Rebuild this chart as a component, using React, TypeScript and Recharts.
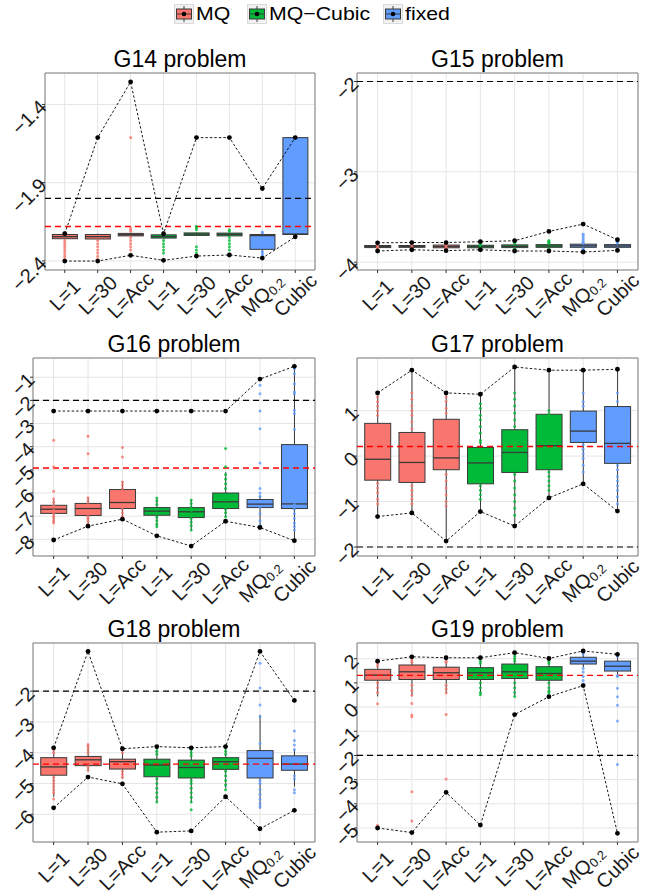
import {
  ComposedChart,
  Bar,
  Line,
  Scatter,
  XAxis,
  YAxis,
  CartesianGrid,
  ReferenceLine,
  ReferenceArea,
} from "recharts";

const FONT = '"Liberation Sans", Arial, Helvetica, sans-serif';
const EDGE = "#3A3A3A";
const AXIS_FS = 20;
const TITLE_FS = 23;
const PAGE_H = 894;

// categories and groups
const CATS = ["L=1", "L=30", "L=Acc", "L=1", "L=30", "L=Acc", "MQ0.2", "Cubic"];
const CAT_GROUP = [0, 0, 0, 1, 1, 1, 2, 2];
const GROUPS = ["MQ", "MQ\u2212Cubic", "fixed"];
const GROUP_COLORS = ["#F8766D", "#00BA38", "#619CFF"];
const BLACK_LEVEL = -2;

// G14
const G14_Q1 = [-2.258, -2.26, -2.24, -2.254, -2.237, -2.24, -2.326, -2.231];
const G14_MED = [-2.245, -2.245, -2.232, -2.245, -2.229, -2.23, -2.238, -2.228];
const G14_Q3 = [-2.231, -2.231, -2.224, -2.233, -2.221, -2.222, -2.231, -1.612];
const G14_LO = [-2.262, -2.264, -2.243, -2.258, -2.24, -2.243, -2.378, -2.246];
const G14_HI = [-2.226, -2.226, -2.22, -2.228, -2.218, -2.218, -2.215, -1.612];
const G14_MAX = [-2.226, -1.612, -1.256, -2.226, -1.612, -1.612, -1.937, -1.612];
const G14_MIN = [-2.401, -2.401, -2.364, -2.396, -2.369, -2.362, -2.382, -2.246];
const G14_PTS = [
  [-2.27, -2.285, -2.3, -2.315, -2.33, -2.345, -2.36, -2.375, -2.39],
  [-2.27, -2.29, -2.31, -2.33, -2.35, -2.37, -2.39],
  [-1.612, -2.19, -2.2, -2.21, -2.25, -2.27, -2.29, -2.31, -2.33],
  [-2.27, -2.29, -2.31, -2.33, -2.35],
  [-2.18, -2.19, -2.2, -2.31, -2.33, -2.35, -2.37],
  [-2.2, -2.21, -2.25, -2.27, -2.29, -2.31, -2.33],
  [-2.215, -2.22, -2.34, -2.35, -2.36, -2.37],
  [],
];
const G14_RED = -2.18;
const G14_DOMAIN = [-2.458, -1.199];
const G14_TICKS = [-2.4, -1.9, -1.4];

// G15
const G15_Q1 = [-3.838, -3.835, -3.84, -3.84, -3.838, -3.835, -3.835, -3.835];
const G15_MED = [-3.826, -3.825, -3.826, -3.826, -3.824, -3.821, -3.818, -3.82];
const G15_Q3 = [-3.815, -3.815, -3.81, -3.812, -3.808, -3.805, -3.8, -3.805];
const G15_LO = [-3.845, -3.842, -3.848, -3.848, -3.846, -3.843, -3.845, -3.842];
const G15_HI = [-3.808, -3.808, -3.803, -3.805, -3.8, -3.798, -3.792, -3.798];
const G15_MAX = [-3.785, -3.782, -3.782, -3.773, -3.762, -3.659, -3.578, -3.751];
const G15_MIN = [-3.876, -3.862, -3.872, -3.862, -3.876, -3.876, -3.887, -3.869];
const G15_PTS = [
  [-3.8, -3.81, -3.83, -3.84, -3.85],
  [-3.81, -3.83, -3.84],
  [-3.8, -3.81, -3.83, -3.845, -3.85],
  [-3.8, -3.81, -3.835, -3.85, -3.86],
  [-3.77, -3.78, -3.79, -3.85, -3.86, -3.87],
  [-3.76, -3.77, -3.78, -3.79, -3.85],
  [-3.69, -3.7, -3.72, -3.74, -3.76, -3.78, -3.79, -3.85, -3.86, -3.875],
  [-3.77, -3.78, -3.79, -3.85],
];
const G15_RED = null;
const G15_DOMAIN = [-4.086, -1.906];
const G15_TICKS = [-4, -3, -2];

// G16
const G16_Q1 = [-6.88, -6.97, -6.67, -6.96, -7.06, -6.67, -6.63, -6.67];
const G16_MED = [-6.7, -6.67, -6.41, -6.78, -6.81, -6.38, -6.48, -6.47];
const G16_Q3 = [-6.53, -6.45, -5.85, -6.63, -6.63, -6.0, -6.28, -3.91];
const G16_LO = [-7.3, -7.4, -7.05, -7.45, -7.6, -7.03, -7.46, -8.06];
const G16_HI = [-6.3, -6.2, -5.5, -6.22, -6.3, -5.1, -6.1, -0.53];
const G16_MAX = [-2.46, -2.46, -2.46, -2.46, -2.46, -2.46, -1.08, -0.53];
const G16_MIN = [-8.03, -7.43, -7.13, -7.85, -8.29, -7.22, -7.49, -8.06];
const G16_PTS = [
  [-3.72, -4.87, -5.92, -6.25, -6.4, -6.55, -6.75, -6.9, -7.0, -7.1, -7.2, -7.3],
  [-3.55, -4.3, -6.2, -6.35, -6.5, -6.8, -7.0, -7.1, -7.2, -7.35],
  [-4.04, -4.44, -5.52, -5.65, -5.8, -6.0, -6.2, -6.5, -6.7, -6.85, -7.0],
  [-6.22, -6.35, -6.5, -6.7, -6.9, -7.05, -7.2, -7.35, -7.46],
  [-6.3, -6.45, -6.6, -6.75, -6.95, -7.1, -7.25, -7.4, -7.6],
  [-4.08, -4.87, -5.2, -5.4, -5.6, -5.8, -6.1, -6.3, -6.5, -6.7, -6.85, -7.03],
  [-1.35, -1.71, -2.46, -3.22, -4.7, -5.81, -6.0, -6.15, -6.6, -6.9, -7.2, -7.4],
  [-0.63, -0.85, -1.28, -1.64, -1.71, -2.43, -2.57, -3.26, -6.5, -6.7, -6.9, -7.1, -7.3, -7.45, -7.6],
];
const G16_RED = -4.92;
const G16_DOMAIN = [-8.72, -0.17];
const G16_TICKS = [-8, -7, -6, -5, -4, -3, -2, -1];

// G17
const G17_Q1 = [-0.53, -0.58, -0.3, -0.61, -0.36, -0.3, 0.3, -0.16];
const G17_MED = [-0.07, -0.14, -0.04, -0.15, 0.08, 0.23, 0.55, 0.28];
const G17_Q3 = [0.72, 0.52, 0.81, 0.19, 0.58, 0.92, 0.99, 1.09];
const G17_LO = [-1.33, -1.25, -1.87, -1.22, -1.54, -0.92, -0.61, -1.21];
const G17_HI = [1.39, 1.89, 1.39, 1.36, 1.96, 1.89, 1.89, 1.91];
const G17_MAX = [1.39, 1.89, 1.39, 1.36, 1.96, 1.89, 1.89, 1.91];
const G17_MIN = [-1.33, -1.25, -1.87, -1.22, -1.54, -0.92, -0.61, -1.21];
const G17_PTS = [
  [1.3, 1.2, 1.1, 1.0, 0.9, -0.6, -0.7, -0.8, -0.95, -1.05],
  [1.39, 1.25, 1.1, 1.0, 0.9, 0.75, 0.6, -0.65, -0.75, -0.85, -0.95, -1.05],
  [1.3, 1.2, 1.05, 0.95, -0.4, -0.55, -0.7, -0.85, -1.0, -1.1],
  [1.15, 1.05, 0.9, 0.8, 0.65, 0.5, 0.35, 0.3, -0.65, -0.75, -0.85, -0.95],
  [1.39, 1.25, 1.1, 0.95, 0.8, 0.65, -0.4, -0.55, -0.7, -0.85, -1.0, -1.15, -1.3],
  [1.0, 0.92, -0.35, -0.45, -0.55, -0.65, -0.75],
  [1.39, 1.2, 1.1, 0.25, 0.15, 0.05, -0.05, -0.2, -0.35],
  [1.39, 1.2, -0.2, -0.3, -0.45, -0.55, -0.65, -0.75, -0.9, -1.05],
];
const G17_RED = 0.21;
const G17_DOMAIN = [-2.198, 2.158];
const G17_TICKS = [-2, -1, 0, 1];

// G18
const G18_Q1 = [-4.73, -4.42, -4.53, -4.78, -4.82, -4.54, -4.82, -4.57];
const G18_MED = [-4.46, -4.23, -4.29, -4.4, -4.48, -4.29, -4.18, -4.37];
const G18_Q3 = [-4.16, -4.12, -4.21, -4.21, -4.24, -4.16, -3.93, -4.1];
const G18_LO = [-5.43, -4.62, -4.84, -5.6, -5.6, -5.16, -5.82, -5.1];
const G18_HI = [-3.84, -3.73, -3.87, -3.8, -3.84, -3.8, -2.77, -3.87];
const G18_MAX = [-3.84, -0.71, -3.87, -3.8, -3.84, -3.8, -0.71, -2.3];
const G18_MIN = [-5.79, -4.79, -5.01, -6.58, -6.54, -5.43, -6.47, -5.87];
const G18_PTS = [
  [-3.9, -4.0, -4.8, -4.9, -5.0, -5.1, -5.2, -5.3, -5.5],
  [-3.73, -3.8, -3.9, -4.0, -4.3, -4.45, -4.55],
  [-3.9, -4.0, -4.6, -4.7, -4.8],
  [-3.85, -3.95, -4.05, -4.85, -5.0, -5.15, -5.3, -5.45, -5.6],
  [-3.9, -4.0, -4.1, -4.9, -5.0, -5.15, -5.3, -5.45, -5.6, -5.85],
  [-3.85, -3.95, -4.05, -4.6, -4.75, -4.9, -5.05, -5.2],
  [-1.09, -1.9, -2.45, -2.83, -3.7, -4.9, -5.0, -5.2, -5.35, -5.5, -5.65, -5.76],
  [-3.29, -3.6, -3.75, -3.9, -4.75, -4.85, -5.2, -5.3],
];
const G18_RED = -4.37;
const G18_DOMAIN = [-6.9, -0.435];
const G18_TICKS = [-6, -5, -4, -3, -2];

// G19
const G19_Q1 = [1.11, 1.14, 1.14, 1.14, 1.18, 1.11, 1.78, 1.49];
const G19_MED = [1.32, 1.46, 1.42, 1.42, 1.46, 1.39, 1.9, 1.69];
const G19_Q3 = [1.56, 1.74, 1.65, 1.63, 1.78, 1.67, 2.06, 1.9];
const G19_LO = [0.44, 0.44, 0.58, 0.51, 0.44, 0.58, 1.63, 1.28];
const G19_HI = [1.9, 2.08, 2.04, 2.04, 2.25, 2.01, 2.32, 2.18];
const G19_MAX = [1.9, 2.08, 2.04, 2.04, 2.25, 2.01, 2.32, 2.18];
const G19_MIN = [-5.0, -5.19, -3.53, -4.88, -0.31, 0.43, 0.89, -5.22];
const G19_PTS = [
  [1.8, 1.7, 1.0, 0.8, 0.6, 0.14, -4.89],
  [1.95, 1.85, 0.9, 0.7, 0.5, 0.15, -0.33, -0.4, -3.5, -4.71],
  [1.9, 1.85, 0.9, 0.75, 0.58, -0.31, -2.97],
  [1.9, 1.8, 1.0, 0.8, 0.6, 0.51],
  [2.1, 2.0, 1.9, 1.0, 0.8, 0.6, 0.44],
  [1.9, 1.8, 1.0, 0.8, 0.65, 0.58],
  [2.25, 2.2, 1.6, 1.45, 1.26, 1.1, 0.95],
  [2.1, 1.3, 1.26, 0.78, 0.43, 0.08, -0.58, -2.37],
];
const G19_RED = 1.31;
const G19_DOMAIN = [-5.58, 2.65];
const G19_TICKS = [-5, -4, -3, -2, -1, 0, 1, 2];

const PANELS = [
  { title: "G14", q1: G14_Q1, med: G14_MED, q3: G14_Q3, lo: G14_LO, hi: G14_HI, max: G14_MAX, min: G14_MIN, pts: G14_PTS, red: G14_RED, domain: G14_DOMAIN, ticks: G14_TICKS, frame: { x0: 0, left: 45, right: 315, top: 73, bottom: 270 } },
  { title: "G15", q1: G15_Q1, med: G15_MED, q3: G15_Q3, lo: G15_LO, hi: G15_HI, max: G15_MAX, min: G15_MIN, pts: G15_PTS, red: G15_RED, domain: G15_DOMAIN, ticks: G15_TICKS, frame: { x0: 325, left: 357, right: 638, top: 73, bottom: 270 } },
  { title: "G16", q1: G16_Q1, med: G16_MED, q3: G16_Q3, lo: G16_LO, hi: G16_HI, max: G16_MAX, min: G16_MIN, pts: G16_PTS, red: G16_RED, domain: G16_DOMAIN, ticks: G16_TICKS, frame: { x0: 0, left: 33, right: 315, top: 358, bottom: 556 } },
  { title: "G17", q1: G17_Q1, med: G17_MED, q3: G17_Q3, lo: G17_LO, hi: G17_HI, max: G17_MAX, min: G17_MIN, pts: G17_PTS, red: G17_RED, domain: G17_DOMAIN, ticks: G17_TICKS, frame: { x0: 325, left: 357, right: 638, top: 358, bottom: 556 } },
  { title: "G18", q1: G18_Q1, med: G18_MED, q3: G18_Q3, lo: G18_LO, hi: G18_HI, max: G18_MAX, min: G18_MIN, pts: G18_PTS, red: G18_RED, domain: G18_DOMAIN, ticks: G18_TICKS, frame: { x0: 0, left: 33, right: 315, top: 643, bottom: 842 } },
  { title: "G19", q1: G19_Q1, med: G19_MED, q3: G19_Q3, lo: G19_LO, hi: G19_HI, max: G19_MAX, min: G19_MIN, pts: G19_PTS, red: G19_RED, domain: G19_DOMAIN, ticks: G19_TICKS, frame: { x0: 325, left: 357, right: 638, top: 643, bottom: 842 } },
];

const X_TICKS = CATS.map((_, i) => i + 1);

const fmtNum = (v: number) => (v < 0 ? "\u2212" : "") + String(Math.abs(v));

// minor grid halfway between major breaks (ggplot style)
const minorBreaks = (ticks: number[], domain: number[]) => {
  const step = ticks[1] - ticks[0];
  const ext = [ticks[0] - step, ...ticks, ticks[ticks.length - 1] + step];
  const mids: number[] = [];
  for (let i = 1; i < ext.length; i++) mids.push((ext[i - 1] + ext[i]) / 2);
  return mids.filter((m) => m > domain[0] && m < domain[1]);
};

const BoxShape = (props: any) => {
  const { x, y, width, height, payload } = props;
  if (!payload || x == null || y == null) return null;
  const { lo, hi, q1, q3, med, color } = payload;
  const yHi = Math.min(y, y + height);
  const yLo = Math.max(y, y + height);
  const py = (v: number) => yLo - ((yLo - yHi) * (v - lo)) / (hi - lo);
  const cx = x + width / 2;
  const top = py(q3);
  const bot = py(q1);
  return (
    <g>
      <line x1={cx} x2={cx} y1={py(hi)} y2={top} stroke={EDGE} strokeWidth={1} />
      <line x1={cx} x2={cx} y1={bot} y2={py(lo)} stroke={EDGE} strokeWidth={1} />
      <rect x={x} y={top} width={width} height={Math.max(bot - top, 1)} fill={color} stroke={EDGE} strokeWidth={1} />
      <line x1={x} x2={x + width} y1={py(med)} y2={py(med)} stroke={EDGE} strokeWidth={1.3} />
    </g>
  );
};

const YTick = (props: any) => {
  const { x, y, payload } = props;
  const px = x + 2;
  const py = y - 1;
  return (
    <text x={px} y={py} transform={`rotate(-45 ${px} ${py})`} textAnchor="end" dominantBaseline="central" fontSize={AXIS_FS} fill="#1A1A1A" fontFamily={FONT}>
      {fmtNum(payload.value)}
    </text>
  );
};

const XTick = (props: any) => {
  const { x, y, payload } = props;
  const cy = y + 20;
  const label = CATS[payload.value - 1] || "";
  const sub = label === "MQ0.2";
  return (
    <text x={x} y={cy} transform={`rotate(-45 ${x} ${cy})`} textAnchor="middle" dominantBaseline="central" fontSize={AXIS_FS} fill="#1A1A1A" fontFamily={FONT}>
      {sub ? (
        <>
          MQ
          <tspan fontSize={13} dy={4}>0.2</tspan>
        </>
      ) : (
        label
      )}
    </text>
  );
};

const Dot = (props: any) => {
  const { cx, cy } = props;
  if (cx == null || cy == null) return null;
  return <circle cx={cx} cy={cy} r={2.4} fill="#000" />;
};

const Panel = ({ p }: { p: any }) => {
  const { x0, left, right, top, bottom } = p.frame;
  const padTop = 10;
  const padRight = 6;
  const xAxisH = Math.min(70, PAGE_H - bottom);
  const width = right - x0 + padRight;
  const height = bottom - top + padTop + xAxisH;
  const rows = CATS.map((_, i) => ({
    x: i + 1,
    lo: p.lo[i],
    q1: p.q1[i],
    med: p.med[i],
    q3: p.q3[i],
    hi: p.hi[i],
    max: p.max[i],
    min: p.min[i],
    color: GROUP_COLORS[CAT_GROUP[i]],
  }));
  const groupPts = GROUPS.map((_, g) =>
    p.pts.flatMap((vals: number[], i: number) => (CAT_GROUP[i] === g ? vals.map((v) => ({ x: i + 1, y: v })) : []))
  );
  const minor = minorBreaks(p.ticks, p.domain);

  return (
    <>
      <div
        style={{
          position: "absolute",
          left,
          width: right - left,
          top: top - 27,
          height: 26,
          lineHeight: "26px",
          textAlign: "center",
          fontSize: TITLE_FS,
          fontFamily: FONT,
          color: "#000",
        }}
      >
        {p.title} problem
      </div>
      <div style={{ position: "absolute", left: x0, top: top - padTop }}>
        <ComposedChart
          width={width}
          height={height}
          data={rows}
          margin={{ top: padTop, right: padRight, bottom: 0, left: 0 }}
          barCategoryGap="12.5%"
          style={{ overflow: "visible" }}
        >
          <CartesianGrid
            stroke="#F3F3F3"
            vertical={false}
            horizontalCoordinatesGenerator={({ yAxis }: any) =>
              yAxis && typeof yAxis.scale === "function" ? minor.map((v) => yAxis.scale(v)) : []
            }
          />
          <CartesianGrid stroke="#E5E5E5" />
          <XAxis
            type="number"
            dataKey="x"
            domain={[0.4, 8.6]}
            ticks={X_TICKS}
            interval={0}
            height={xAxisH}
            tick={<XTick />}
            tickSize={3}
            tickLine={{ stroke: "#333" }}
            axisLine={false}
            allowDataOverflow
          />
          <YAxis
            type="number"
            domain={p.domain}
            ticks={p.ticks}
            interval={0}
            width={left - x0}
            tick={<YTick />}
            tickSize={3}
            tickMargin={1}
            tickLine={{ stroke: "#333" }}
            axisLine={false}
            allowDataOverflow
          />
          <Bar dataKey={(d: any) => [d.lo, d.hi]} shape={(s: any) => <BoxShape {...s} />} isAnimationActive={false} />
          {GROUPS.map((g, gi) => (
            <Scatter
              key={g}
              data={groupPts[gi]}
              dataKey="y"
              shape={(s: any) => <circle cx={s.cx} cy={s.cy} r={1.5} fill={GROUP_COLORS[gi]} fillOpacity={0.8} />}
              isAnimationActive={false}
            />
          ))}
          <ReferenceLine y={BLACK_LEVEL} stroke="#000" strokeWidth={1.2} strokeDasharray="6 4" />
          {p.red != null && <ReferenceLine y={p.red} stroke="#FF0000" strokeWidth={1.4} strokeDasharray="6 4" />}
          <Line dataKey="max" stroke="#000" strokeWidth={0.9} strokeDasharray="2.5 2" dot={<Dot />} activeDot={false} isAnimationActive={false} />
          <Line dataKey="min" stroke="#000" strokeWidth={0.9} strokeDasharray="2.5 2" dot={<Dot />} activeDot={false} isAnimationActive={false} />
          <ReferenceArea x1={0.4} x2={8.6} y1={p.domain[0]} y2={p.domain[1]} fill="none" fillOpacity={0} stroke="#808080" strokeWidth={1} />
        </ComposedChart>
      </div>
    </>
  );
};

const LegendKey = ({ color }: { color: string }) => (
  <svg width={20} height={20} style={{ display: "block" }}>
    <rect x={0.5} y={0.5} width={19} height={19} fill="#F2F2F2" stroke="#DADADA" />
    <line x1={10} x2={10} y1={2} y2={18} stroke={EDGE} strokeWidth={1} />
    <rect x={2.5} y={5} width={15} height={10} fill={color} stroke={EDGE} strokeWidth={1} />
    <line x1={2.5} x2={17.5} y1={10} y2={10} stroke={EDGE} strokeWidth={1} />
    <circle cx={10} cy={10} r={2.3} fill="#000" />
  </svg>
);

const LEGEND_X = [174, 247, 383];

const App = () => (
  <div style={{ position: "absolute", left: 0, top: 0, width: 650, height: PAGE_H, background: "#fff", fontFamily: FONT }}>
    {GROUPS.map((g, i) => (
      <div key={g} style={{ position: "absolute", left: LEGEND_X[i], top: 4, display: "flex", alignItems: "center", height: 20 }}>
        <LegendKey color={GROUP_COLORS[i]} />
        <span
          style={{
            display: "inline-block",
            fontSize: 19,
            marginLeft: 2,
            color: "#000",
            lineHeight: "20px",
            transform: "scaleX(1.12)",
            transformOrigin: "left center",
            whiteSpace: "nowrap",
          }}
        >
          {g}
        </span>
      </div>
    ))}
    {PANELS.map((p) => (
      <Panel key={p.title} p={p} />
    ))}
  </div>
);

export default App;
